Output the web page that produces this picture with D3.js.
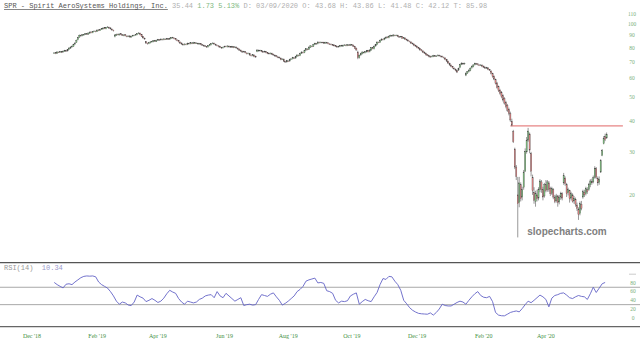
<!DOCTYPE html>
<html>
<head>
<meta charset="utf-8">
<script src="https://cdn.jsdelivr.net/npm/d3@7"></script>
<style>
  body { margin: 0; background: #fff; }
  svg  { display: block; }
  text { white-space: pre; }
</style>
</head>
<body>
<svg id="chart" width="640" height="345"></svg>
<script>
/*********************************************************
 * DATA  (daily sessions, first one = firstSession)
 *********************************************************/
const firstSession = "2018-12-24";

const opens = [
  76.0,76.3,75.9,76.8,76.6,77.0,76.8,77.4,77.9,77.6,
  78.8,79.6,80.6,81.1,82.8,84.2,86.2,88.4,89.8,89.6,
  90.3,90.7,91.2,90.9,91.7,92.8,92.1,93.3,93.5,93.2,
  94.6,94.1,95.2,95.4,96.5,95.6,96.9,97.0,96.4,95.3,
  94.3,89.0,90.0,90.9,90.2,91.2,90.4,89.6,90.4,89.3,
  88.9,89.4,88.4,89.3,89.6,90.2,90.4,91.4,91.7,90.6,
  88.8,87.5,84.6,83.4,83.2,83.8,84.6,84.7,85.6,84.9,
  85.9,86.3,86.1,86.6,86.3,86.8,86.6,87.1,86.7,87.3,
  88.1,87.6,87.1,86.1,85.6,84.4,83.6,82.6,82.3,82.7,
  82.5,83.3,83.1,83.6,83.3,83.8,83.4,83.4,83.0,83.1,
  82.3,81.8,81.4,80.8,80.7,81.6,82.3,83.2,83.4,82.6,
  81.8,81.4,80.9,80.1,79.9,80.6,81.1,80.7,81.2,80.7,
  80.4,80.8,80.4,80.4,79.6,78.9,78.1,77.3,77.0,77.0,
  76.1,75.7,75.7,74.5,74.3,74.6,73.8,77.2,78.1,77.7,
  77.8,77.0,76.9,77.1,76.3,75.9,75.6,75.8,75.1,74.5,
  74.1,73.4,73.1,72.5,71.7,71.8,70.3,70.0,70.6,70.6,
  71.8,72.1,72.7,72.6,73.8,74.5,74.4,75.9,76.6,76.5,
  78.2,79.0,78.8,80.4,81.2,81.1,82.6,83.2,83.1,84.2,
  83.9,84.1,84.1,83.4,84.0,83.7,82.9,82.7,82.2,82.1,
  81.5,80.9,80.6,80.9,81.7,81.2,82.0,82.0,81.7,82.1,
  81.9,82.3,81.9,80.8,79.6,76.8,72.8,74.7,75.6,76.6,
  76.4,76.9,77.9,77.1,78.2,80.1,79.2,81.3,82.5,84.2,
  84.2,85.9,86.6,86.4,87.5,88.5,87.9,89.3,89.7,89.4,
  90.0,89.7,89.9,88.8,88.6,88.7,87.5,87.6,86.6,85.9,
  85.0,84.4,83.5,82.7,81.8,81.0,80.1,79.2,78.4,77.6,
  76.7,75.8,74.9,74.2,73.7,73.5,73.7,74.1,73.9,74.2,
  74.4,74.0,73.7,73.1,72.6,71.5,70.3,69.0,67.8,66.9,
  66.0,65.3,64.4,64.8,66.5,68.4,69.0,68.7,61.8,63.0,
  63.9,64.6,66.2,67.0,68.2,68.8,68.7,68.0,67.9,67.8,
  67.2,66.4,66.1,66.1,65.0,64.2,62.6,61.0,59.2,57.4,
  55.4,53.6,52.6,50.9,49.5,47.8,46.4,44.8,43.0,
  40.0,36.3,30.8,26.0,20.0,18.6,22.0,19.6,21.5,25.0,30.0,33.5,35.5,29.5,23.5,20.5,
  18.8,20.0,19.4,21.0,22.6,21.0,19.8,22.0,21.0,22.4,21.2,20.3,21.0,19.6,18.9,19.8,
  18.7,19.6,20.2,22.4,23.4,22.0,20.4,20.8,19.4,20.0,18.9,19.2,18.2,17.5,16.8,18.3,
  19.6,20.5,20.2,21.0,21.0,22.0,22.7,22.6,23.6,25.6,23.4,22.5,24.8,29.0,32.4,34.6,34.2
];

const highs = [
  76.6,76.8,77.3,77.1,77.6,77.5,77.9,78.4,78.3,79.0,
  80.2,81.0,81.7,83.0,84.2,86.4,88.6,90.6,90.5,90.9,
  91.0,91.8,91.7,92.3,93.2,93.3,93.6,94.1,94.0,95.0,
  95.1,95.5,96.1,96.9,97.0,97.3,98.0,97.5,96.9,95.8,
  94.8,90.9,91.3,91.4,91.5,91.7,90.9,90.7,90.9,89.8,
  89.8,89.9,89.7,90.3,90.5,91.0,91.7,92.5,92.2,91.1,
  89.3,88.0,85.2,83.9,84.5,85.0,85.3,86.0,86.1,86.3,
  86.9,86.8,87.3,87.1,87.4,87.3,87.7,87.6,87.9,88.5,
  88.6,88.1,87.6,86.6,86.1,84.9,84.1,83.1,83.3,83.2,
  83.9,83.8,84.3,84.1,84.5,84.3,84.1,83.9,83.7,83.6,
  82.8,82.3,81.9,81.3,82.0,82.9,83.5,84.1,83.9,83.1,
  82.3,81.9,81.4,80.6,80.9,81.5,81.6,81.8,81.7,81.2,
  81.4,81.3,81.1,80.9,80.1,79.4,78.6,77.8,77.7,77.5,
  76.6,76.4,76.2,75.0,75.3,75.1,74.3,78.9,78.6,78.5,
  78.3,77.5,77.8,77.6,76.8,76.4,76.5,76.3,75.6,75.0,
  74.6,73.9,73.6,73.0,72.4,72.3,70.8,71.3,71.1,72.1,
  72.5,73.4,73.2,74.1,75.2,75.0,76.3,77.3,77.1,78.5,
  79.7,79.5,81.0,81.9,81.7,83.0,83.9,83.7,84.9,84.7,
  84.8,84.6,84.6,84.6,84.5,84.2,83.4,83.2,82.7,82.6,
  82.0,81.4,81.5,82.1,82.2,82.4,82.6,82.5,82.8,82.6,
  82.9,82.8,82.4,81.3,80.1,77.8,75.0,76.3,77.3,77.1,
  77.5,78.3,78.4,78.8,80.4,80.6,81.7,82.9,84.9,84.7,
  86.3,87.3,87.1,88.1,88.9,89.0,89.7,90.4,90.2,90.8,
  90.5,90.5,90.4,89.3,89.4,89.2,88.3,88.1,87.1,86.4,
  85.5,84.9,84.0,83.2,82.3,81.5,80.6,79.7,78.9,78.1,
  77.2,76.3,75.4,74.7,74.2,74.3,74.8,74.6,74.5,75.1,
  74.9,74.5,74.2,73.6,73.1,72.0,70.8,69.5,68.3,67.4,
  66.5,65.8,64.9,66.3,68.7,69.7,69.5,69.5,63.5,64.3,
  65.3,66.5,67.7,68.5,69.5,69.3,69.2,68.5,68.5,68.3,
  67.7,66.9,66.8,66.6,65.5,64.7,63.2,61.6,59.8,58.0,
  56.0,54.3,53.2,51.6,50.2,48.5,47.1,45.5,43.8,
  41.0,36.9,31.2,26.5,23.7,23.7,22.5,21.6,25.3,31.0,34.5,37.6,36.0,30.0,24.2,21.5,
  20.8,21.0,21.5,23.2,23.0,21.6,22.4,23.0,23.0,22.8,21.6,21.6,21.3,20.0,20.2,20.0,
  20.0,20.6,20.5,24.6,23.8,22.4,21.4,21.0,20.6,20.3,19.8,19.5,18.6,17.8,18.8,18.9,
  21.0,21.0,21.6,21.5,22.4,23.2,23.3,24.0,26.2,26.0,23.8,23.8,28.0,30.8,34.8,35.6,36.0
];

const lows = [
  75.5,75.3,75.5,76.1,76.2,76.1,76.4,77.0,76.9,77.2,
  78.4,79.2,80.1,80.7,82.3,83.8,85.8,87.9,88.8,89.1,
  89.8,90.2,90.3,90.5,91.3,91.7,91.7,92.8,92.5,92.8,
  93.5,93.7,94.7,95.0,95.3,95.1,96.4,95.7,95.0,94.0,
  93.2,88.2,89.5,89.9,89.8,90.0,89.3,89.1,89.0,88.3,
  88.4,88.0,87.9,88.8,89.2,89.7,90.0,90.9,89.9,88.5,
  87.2,86.3,82.9,82.4,82.7,83.3,84.1,84.2,84.5,84.4,
  85.4,85.5,85.6,85.7,85.8,86.0,86.1,86.1,86.2,86.8,
  87.2,86.5,85.8,85.0,84.1,83.0,82.3,81.6,81.8,81.9,
  82.0,82.5,82.6,82.7,82.8,82.8,82.9,82.4,82.5,81.9,
  81.5,80.8,80.5,80.0,80.2,81.1,81.8,82.7,82.3,81.5,
  81.0,80.3,79.8,79.3,79.4,80.1,80.3,80.2,80.1,80.0,
  79.9,79.7,79.9,79.3,78.5,77.7,77.0,76.3,76.5,75.8,
  75.1,75.2,74.2,73.7,73.8,73.1,72.7,76.7,77.1,77.2,
  76.7,76.3,76.4,75.9,75.3,75.0,75.1,74.7,74.2,73.5,
  73.1,72.5,72.2,71.1,71.2,70.0,69.3,69.5,69.9,70.1,
  71.3,71.6,71.9,72.1,73.3,73.7,73.9,75.4,75.8,76.0,
  77.7,78.1,78.3,79.9,80.4,80.6,82.1,82.4,82.6,83.3,
  83.4,83.5,83.0,82.9,83.1,82.5,82.1,81.8,81.5,80.9,
  80.5,80.0,80.1,80.4,80.8,80.7,81.5,81.1,81.2,81.3,
  81.4,81.6,80.5,79.0,77.8,71.8,72.2,74.2,75.1,75.7,
  75.9,76.4,76.5,76.6,77.7,78.8,78.7,80.8,82.0,83.5,
  83.7,85.4,85.7,85.9,87.0,87.5,87.4,88.8,88.8,88.9,
  89.1,89.2,88.4,88.0,88.1,86.9,87.0,86.0,85.5,84.7,
  84.1,82.9,82.4,81.1,80.7,79.5,78.9,77.8,77.3,76.1,
  75.5,74.3,73.9,73.1,72.8,73.0,73.2,73.3,73.4,73.7,
  73.6,73.1,72.8,72.3,71.1,70.0,68.7,67.5,66.5,65.7,
  65.0,64.1,63.0,64.3,66.0,67.9,68.1,68.2,61.2,62.5,
  63.4,64.1,65.7,66.5,67.7,68.1,67.7,67.3,67.4,66.5,
  66.1,65.5,65.6,64.7,64.3,62.2,60.3,58.9,56.6,54.4,
  52.7,51.4,49.7,48.2,46.8,45.2,43.7,42.3,39.8,
  38.2,32.6,25.5,23.0,13.4,17.8,18.8,19.0,21.0,24.8,29.5,33.0,29.6,23.8,20.0,18.4,
  17.9,18.8,19.0,20.5,20.4,19.0,19.5,20.5,20.6,20.6,19.8,20.0,19.2,18.5,18.6,17.9,
  18.3,19.1,19.0,22.0,21.8,19.6,19.9,18.6,19.0,18.6,18.4,17.9,17.2,15.8,16.5,17.3,
  19.3,19.6,19.9,20.2,20.8,21.5,22.0,22.3,23.3,23.2,21.8,22.0,24.6,28.8,32.2,33.2,33.9
];

const closes = [
  76.2,75.8,76.9,76.5,77.2,76.6,77.5,78.0,77.4,78.6,
  79.8,80.5,81.2,82.6,83.6,85.8,88.0,90.0,89.4,90.4,
  90.5,91.3,90.8,91.9,92.7,92.2,93.1,93.6,93.0,94.5,
  94.0,95.0,95.6,96.3,95.8,96.8,97.2,96.2,95.5,94.5,
  93.8,90.2,90.8,90.4,91.0,90.5,89.8,90.2,89.5,88.8,
  89.3,88.5,89.2,89.8,90.0,90.5,91.2,91.9,90.4,89.0,
  87.7,86.8,83.6,83.0,84.0,84.5,84.8,85.5,85.0,85.8,
  86.4,86.0,86.8,86.2,86.9,86.5,87.2,86.6,87.4,88.0,
  87.7,87.0,86.3,85.5,84.6,83.5,82.8,82.1,82.8,82.4,
  83.4,83.0,83.8,83.2,84.0,83.3,83.6,82.9,83.2,82.4,
  82.0,81.3,81.0,80.5,81.5,82.4,83.0,83.6,82.8,82.0,
  81.5,80.8,80.3,79.8,80.4,81.0,80.8,81.3,80.6,80.5,
  80.9,80.2,80.6,79.8,79.0,78.2,77.5,76.8,77.2,76.3,
  75.6,75.9,74.7,74.2,74.8,73.6,73.3,78.3,77.6,78.0,
  77.2,76.8,77.3,76.4,75.8,75.5,76.0,75.2,74.7,74.0,
  73.6,73.0,72.7,71.6,71.9,70.5,69.9,70.8,70.4,71.6,
  72.0,72.9,72.4,73.6,74.7,74.2,75.8,76.8,76.3,78.0,
  79.2,78.6,80.5,81.4,80.9,82.5,83.4,82.9,84.4,83.8,
  84.3,84.0,83.5,84.1,83.6,83.0,82.6,82.3,82.0,81.4,
  81.0,80.5,81.0,81.6,81.3,81.9,82.1,81.6,82.3,81.8,
  82.4,82.1,81.0,79.5,78.3,72.9,74.5,75.8,76.8,76.2,
  77.0,77.8,77.0,78.3,79.9,79.3,81.2,82.4,84.4,84.0,
  85.8,86.8,86.2,87.6,88.4,88.0,89.2,89.9,89.3,90.2,
  89.6,90.0,88.9,88.5,88.9,87.4,87.8,86.5,86.0,85.2,
  84.6,83.4,82.9,81.6,81.2,80.0,79.4,78.3,77.8,76.6,
  76.0,74.8,74.4,73.6,73.3,73.8,74.3,73.8,74.0,74.6,
  74.1,73.6,73.3,72.8,71.6,70.5,69.2,68.0,67.0,66.2,
  65.5,64.6,63.6,65.8,68.2,69.2,68.6,69.0,62.9,63.8,
  64.8,66.0,67.2,68.0,69.0,68.6,68.2,67.8,68.0,67.0,
  66.6,66.0,66.3,65.2,64.8,62.8,60.9,59.5,57.2,55.0,
  53.4,52.1,50.4,48.9,47.5,45.9,44.4,43.1,40.5,
  38.6,33.0,26.0,23.8,18.4,22.4,19.3,21.0,24.8,30.2,33.5,36.5,30.5,25.0,20.8,19.0,
  20.2,19.3,21.0,22.8,21.0,19.6,22.0,20.8,22.6,21.0,20.2,21.2,19.6,18.8,19.8,18.6,
  19.6,20.2,19.4,24.0,22.2,20.2,21.0,19.3,20.2,18.8,19.4,18.3,17.6,16.6,18.4,17.6,
  20.6,20.0,21.2,20.6,22.0,22.8,22.4,23.5,25.6,23.6,22.4,23.2,27.6,30.4,34.0,33.7,35.44
];

// RSI(14), read every second session
const rsiValues = [
  81,76,72,68.5,77,78,76,82,87,92,
  95,96,95.5,96,94,82,76,72,68,60,
  50,38,31,36,34,29,28,36,52,48,
  45,37,40,44,40,35,38,45,55,63,
  59,56,44,36,31,38,36,34,36,42,
  45,50,52,53,46,60,50,46,56,50,
  44,38,42,46,28,30,31,29,30,42,
  53,51,49,54,57,48,40,29,33,38,
  44,50,60,65,72,84,87,89,91,80,
  81,79,62,60,56,40,34,38,37,39,
  50,54,57,31,37,42,39,37,48,58,
  76,90,88,95,94,84,76,63,40,32,
  23,17,13,10,9,8.5,8,11,6,12,
  20,31,28,27,27,31,35,38,36,31,
  40,48,55,60,51,47,46,49,37,12,
  6,4.5,4.3,8,12,14,15.5,13.4,21,30,
  38,34.5,40,46,52,48,42,25,45,51,
  53,56,57,52,46,44,48,51,49,48,
  42,55,70,58,68,78,81
];

const priceTicks  = [110, 100, 90, 80, 70, 60, 50, 40, 30, 20];
const rsiTicks    = [80, 60, 40, 20, 0];
const rsiBands    = [70, 30];
const monthDates  = ["2018-12-03","2019-02-01","2019-04-01","2019-06-03","2019-08-01",
                     "2019-10-01","2019-12-02","2020-02-03","2020-04-01"];
const monthLabels = ["Dec '18","Feb '19","Apr '19","Jun '19","Aug '19",
                     "Oct '19","Dec '19","Feb '20","Apr '20"];
const levelPrice  = [38.3];
const levelFrom   = "2020-02-27";

/*********************************************************
 * SCALES
 *********************************************************/
const svg = d3.select("#chart");
const parse = d3.timeParse("%Y-%m-%d"), fmt = d3.timeFormat("%Y-%m-%d");

// trading calendar (weekdays) shown on the axis
const calendar = d3.timeDay.range(parse("2018-11-26"), parse("2020-06-13"))
  .filter(d => d.getDay() !== 0 && d.getDay() !== 6).map(fmt);
const s0 = calendar.indexOf(firstSession);
const sessions = calendar.slice(s0, s0 + closes.length);
const candles = sessions.map((d, k) => ({ date: d, o: opens[k], h: highs[k], l: lows[k], c: closes[k] }));
const rsi = sessions.filter((d, k) => k % 2 === 0).slice(0, rsiValues.length)
  .map((d, k) => ({ date: d, v: rsiValues[k] }));

const x  = d3.scalePoint().domain(calendar).range([24.6, 622.9]);
const y  = d3.scaleLog().domain([20, 110]).range([194.9, 13.9]);
const yr = d3.scaleLinear().domain([0, 100]).range([317.7, 274.2]);

/*********************************************************
 * HEADER
 *********************************************************/
const head = svg.append("text").attr("x", 4).attr("y", 8)
  .attr("font-family", "'Liberation Mono', 'DejaVu Sans Mono', monospace").attr("font-size", 7);
head.append("tspan").attr("fill", "#555").attr("text-decoration", "underline")
  .text("SPR - Spirit AeroSystems Holdings, Inc.");
head.append("tspan").attr("fill", "#b0b0b0").text(" 35.44");
head.append("tspan").attr("fill", "#80b880").text(" 1.73 5.13%");
head.append("tspan").attr("fill", "#b0b0b0")
  .text(" D: 03/09/2020 O: 43.68 H: 43.86 L: 41.48 C: 42.12 T: 85.98");

/*********************************************************
 * PRICE PANEL
 *********************************************************/
svg.append("g").selectAll("text").data(priceTicks).join("text")
  .attr("x", 632).attr("y", d => y(d) + 1.8).attr("text-anchor", "middle")
  .attr("font-family", "'Liberation Serif', serif").attr("font-size", 5.5)
  .attr("fill", "#7ab07a").text(d => d);

svg.append("g").selectAll("line").data(levelPrice).join("line")
  .attr("x1", x(levelFrom)).attr("x2", 622.9)
  .attr("y1", d => y(d)).attr("y2", d => y(d))
  .attr("stroke", "#e06666").attr("stroke-width", 1);

const cg = svg.append("g");
cg.selectAll("line").data(candles).join("line")
  .attr("x1", d => x(d.date)).attr("x2", d => x(d.date))
  .attr("y1", d => y(d.h)).attr("y2", d => y(d.l))
  .attr("stroke", "#444").attr("stroke-width", 0.55);
cg.selectAll("rect").data(candles).join("rect")
  .attr("x", d => x(d.date) - 0.6).attr("width", 1.2)
  .attr("y", d => y(Math.max(d.o, d.c)))
  .attr("height", d => Math.max(0.5, Math.abs(y(d.o) - y(d.c))))
  .attr("fill", d => d.c >= d.o ? "#7fc47f" : "#e08484")
  .attr("stroke", "#444").attr("stroke-width", 0.3);

svg.append("text").attr("x", 567).attr("y", 235).attr("text-anchor", "middle")
  .attr("font-family", "'Liberation Sans', Arial, sans-serif").attr("font-weight", "bold")
  .attr("font-size", 10).attr("fill", "#808080").text("slopecharts.com");

/*********************************************************
 * RSI PANEL
 *********************************************************/
svg.append("line").attr("x1", 0).attr("x2", 640).attr("y1", 262.7).attr("y2", 262.7)
  .attr("stroke", "#555").attr("stroke-width", 1.3);
svg.append("line").attr("x1", 0).attr("x2", 640).attr("y1", 326.7).attr("y2", 326.7)
  .attr("stroke", "#666").attr("stroke-width", 1.2);

svg.append("g").selectAll("line").data(rsiBands).join("line")
  .attr("x1", 0).attr("x2", 640).attr("y1", d => yr(d)).attr("y2", d => yr(d))
  .attr("stroke", "#a8a8a8").attr("stroke-width", 1);

svg.append("line").attr("x1", 629).attr("x2", 636).attr("y1", yr(100)).attr("y2", yr(100))
  .attr("stroke", "#aaa").attr("stroke-width", 0.6);
svg.append("g").selectAll("text").data(rsiTicks).join("text")
  .attr("x", 633).attr("y", d => yr(d) + 1.8).attr("text-anchor", "middle")
  .attr("font-family", "'Liberation Serif', serif").attr("font-size", 5.5)
  .attr("fill", "#7ab07a").text(d => d);

svg.append("path").datum(rsi)
  .attr("fill", "none").attr("stroke", "#6363c6").attr("stroke-width", 0.9)
  .attr("d", d3.line().x(d => x(d.date)).y(d => yr(d.v)));

const rl = svg.append("text").attr("x", 4).attr("y", 270)
  .attr("font-family", "'Liberation Mono', 'DejaVu Sans Mono', monospace").attr("font-size", 7);
rl.append("tspan").attr("fill", "#999").text("RSI(14)  ");
rl.append("tspan").attr("fill", "#9a9acc").text("10.34");

/*********************************************************
 * TIME AXIS
 *********************************************************/
svg.append("g").selectAll("text").data(monthDates).join("text")
  .attr("x", d => x(d)).attr("y", 338).attr("text-anchor", "middle")
  .attr("font-family", "'Liberation Serif', serif").attr("font-size", 6)
  .attr("fill", "#3f8f3f").text((d, k) => monthLabels[k]);
</script>
</body>
</html>
